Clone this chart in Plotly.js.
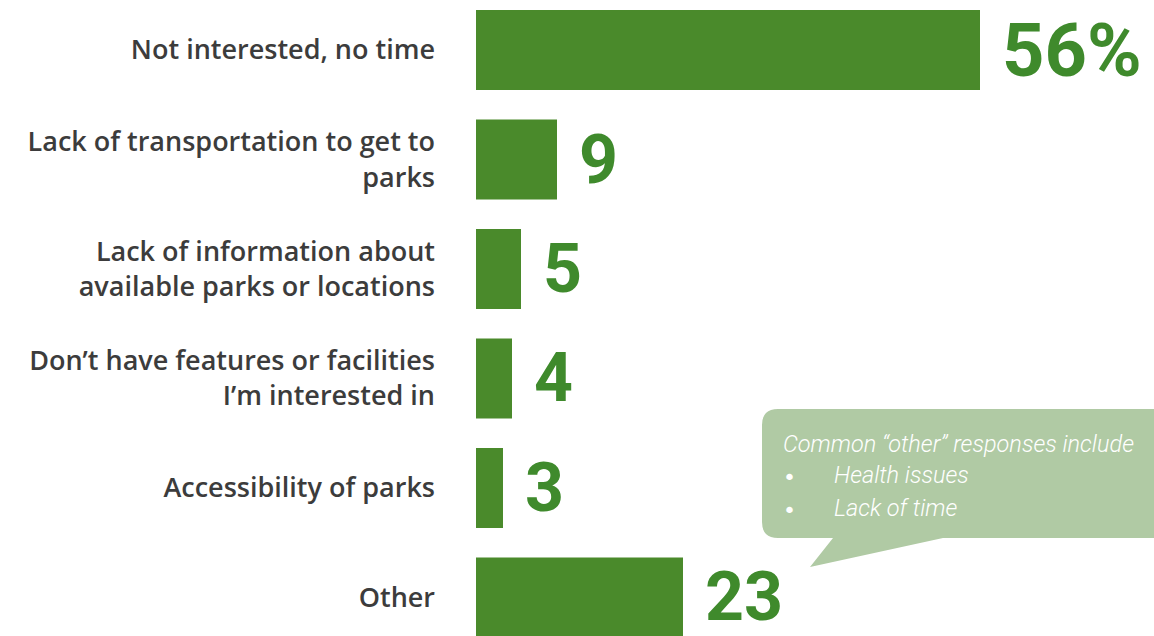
<!DOCTYPE html>
<html>
<head>
<meta charset="utf-8">
<script src="https://cdn.plot.ly/plotly-3.0.1.min.js"></script>
<style>html,body{margin:0;padding:0;background:#fff;}#chart{width:1154px;height:636px;}</style>
</head>
<body>
<div id="chart"></div>
<script>
const categories = [
  "Not interested, no time",
  "Lack of transportation to get to<br>parks",
  "Lack of information about<br>available parks or locations",
  "Don’t have features or facilities<br>I’m interested in",
  "Accessibility of parks",
  "Other"
];
const values = [56, 9, 5, 4, 3, 23];
const valueLabels = ["56%", "9", "5", "4", "3", "23"];
const calloutTitle = "Common “other” responses include";
const calloutItems = ["Health issues", "Lack of time"];

const barColor = "#4a8a2b";
const valueColor = "#3f8a2c";

const W = 1154, H = 636, L = 476;
const px = x => (x - L) / (W - L);
const py = y => 1 - y / H;

const bar = {
  type: "bar",
  orientation: "h",
  x: values,
  y: categories,
  marker: { color: barColor },
  width: 0.73,
  hoverinfo: "x+y"
};

const annotations = values.map((v, i) => ({
  x: v, y: categories[i], xref: "x", yref: "y",
  text: valueLabels[i], showarrow: false, xanchor: "left", yanchor: "middle",
  xshift: 20,
  font: { family: "Roboto", size: i === 0 ? 74 : 68, color: valueColor, weight: 700 }
}));

annotations.push({
  xref: "paper", yref: "paper", x: px(781), y: py(444), xanchor: "left", yanchor: "middle",
  text: "<i>" + calloutTitle + "</i>", showarrow: false,
  font: { family: "Roboto", size: 23.5, color: "#ffffff", weight: 300 }
});
calloutItems.forEach((t, i) => {
  annotations.push({
    xref: "paper", yref: "paper", x: px(781), y: py(477 + i * 33), xanchor: "left", yanchor: "middle",
    text: "•", showarrow: false,
    font: { family: "DejaVu Sans", size: 22, color: "#ffffff" }
  });
  annotations.push({
    xref: "paper", yref: "paper", x: px(832), y: py(475 + i * 33), xanchor: "left", yanchor: "middle",
    text: "<i>" + t + "</i>", showarrow: false,
    font: { family: "Roboto", size: 23.5, color: "#ffffff", weight: 300 }
  });
});

// callout bubble path (paper coords)
const r = 16;
const pts = [
  ["M", 762, 409 + r],
  ["Q", 762, 409, 762 + r, 409],
  ["L", 1160, 409],
  ["L", 1160, 538],
  ["L", 943, 538],
  ["L", 810, 567],
  ["L", 833, 538],
  ["L", 762 + r, 538],
  ["Q", 762, 538, 762, 538 - r]
];
let path = "";
pts.forEach(p => {
  if (p[0] === "Q") path += `Q${px(p[1])},${py(p[2])} ${px(p[3])},${py(p[4])} `;
  else path += `${p[0]}${px(p[1])},${py(p[2])} `;
});
path += "Z";

const layout = {
  width: W, height: H,
  margin: { l: L, r: 0, t: 0, b: 0, pad: 0 },
  paper_bgcolor: "#ffffff",
  plot_bgcolor: "#ffffff",
  showlegend: false,
  xaxis: { range: [0, (W - L) / 9], visible: false, fixedrange: true },
  yaxis: {
    type: "category",
    range: [5.352, -0.457],
    showgrid: false, zeroline: false, showline: false,
    ticks: "", ticklabelstandoff: 40,
    tickfont: { family: "Open Sans", size: 27, color: "#3c3c3c", weight: 600 },
    fixedrange: true
  },
  shapes: [{
    type: "path", xref: "paper", yref: "paper", path: path,
    fillcolor: "#b0caa4", line: { width: 0 }, layer: "above"
  }],
  annotations: annotations
};

Plotly.newPlot("chart", [bar], layout, { displayModeBar: false, staticPlot: true });
</script>
</body>
</html>
